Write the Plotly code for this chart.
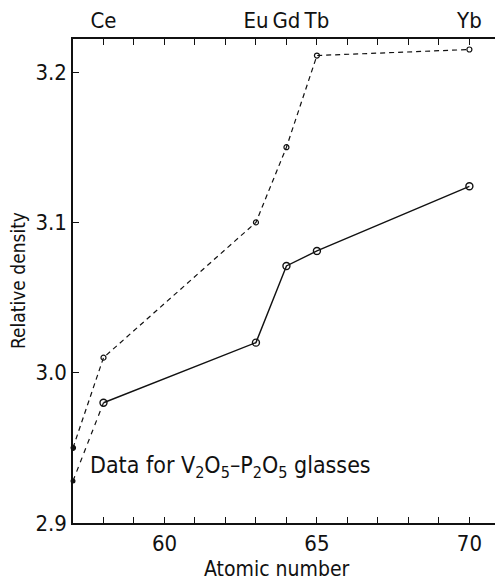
import plotly.graph_objects as go

# Data
atomic_number = [57, 58, 63, 64, 65, 70]
density_solid = [2.928, 2.980, 3.020, 3.071, 3.081, 3.124]
density_dashed = [2.950, 3.010, 3.100, 3.150, 3.211, 3.215]
top_tick_vals = [58, 63, 64, 65, 70]
top_tick_text = ["Ce", "Eu", "Gd", "Tb", "Yb"]
y_ticks = [2.9, 3.0, 3.1, 3.2]

FONT = "DejaVu Sans Condensed, DejaVu Sans"
BLACK = "#111111"

fig = go.Figure()

# dashed upper series
fig.add_trace(go.Scatter(
    x=atomic_number, y=density_dashed, mode="lines+markers",
    line=dict(color=BLACK, width=1.2, dash="5px,4px"),
    marker=dict(symbol="circle-open", size=5, color=BLACK, line=dict(width=1.2)),
    showlegend=False))

# lower series: first segment dashed, rest solid
fig.add_trace(go.Scatter(
    x=atomic_number[:2], y=density_solid[:2], mode="lines",
    line=dict(color=BLACK, width=1.2, dash="5px,5px"),
    showlegend=False))
fig.add_trace(go.Scatter(
    x=atomic_number[1:], y=density_solid[1:], mode="lines+markers",
    line=dict(color=BLACK, width=1.4),
    marker=dict(symbol="circle-open", size=7, color=BLACK, line=dict(width=1.4)),
    showlegend=False))
# filled end points at Z=57
fig.add_trace(go.Scatter(
    x=[atomic_number[0], atomic_number[0]], y=[density_solid[0], density_dashed[0]],
    mode="markers", marker=dict(size=5, color=BLACK),
    showlegend=False, cliponaxis=False))

# invisible trace to activate top axis
fig.add_trace(go.Scatter(x=[atomic_number[0]], y=[density_solid[0]], xaxis="x2",
                         mode="markers", marker=dict(opacity=0), showlegend=False,
                         hoverinfo="skip"))

xr = [57, 70.84]
TICKF = dict(family=FONT, size=22, color=BLACK)
fig.update_layout(
    width=495, height=580,
    margin=dict(l=73, r=0, t=39, b=57),
    plot_bgcolor="white", paper_bgcolor="white",
    font=dict(family=FONT, size=21, color=BLACK),
    xaxis=dict(range=xr, showline=True, linecolor=BLACK, linewidth=1.5,
               ticks="inside", ticklen=6, tickwidth=1.2, tickcolor=BLACK,
               tickvals=[60, 65, 70], showgrid=False, zeroline=False,
               minor=dict(ticks="inside", ticklen=6, tickwidth=1.2, tickcolor=BLACK, dtick=1, tick0=57),
               tickfont=TICKF, automargin=False),
    xaxis2=dict(range=xr, overlaying="x", side="top", anchor="y",
                showline=True, linecolor=BLACK, linewidth=1.5,
                ticks="inside", ticklen=6, tickwidth=1.2, tickcolor=BLACK,
                tickvals=top_tick_vals, ticktext=top_tick_text,
                minor=dict(ticks="inside", ticklen=6, tickwidth=1.2, tickcolor=BLACK, dtick=1, tick0=57),
                showgrid=False, zeroline=False, tickfont=TICKF, automargin=False),
    yaxis=dict(range=[2.9, 3.222], showline=True, linecolor=BLACK, linewidth=1.5,
               ticks="inside", ticklen=6, tickwidth=1.2, tickcolor=BLACK,
               tickvals=y_ticks, tickformat=".1f", showgrid=False, zeroline=False,
               tickfont=TICKF, automargin=False),
)

# axis titles as annotations for precise placement
fig.add_annotation(xref="paper", yref="paper", x=(277 - 73) / 422, y=-(569 - 523) / 484,
                   xanchor="center", yanchor="middle", showarrow=False,
                   text="Atomic number", font=dict(family=FONT, size=21, color=BLACK))
fig.add_annotation(xref="paper", yref="paper", x=-(73 - 18) / 422, y=(523 - 280) / 484,
                   xanchor="center", yanchor="middle", showarrow=False, textangle=-90,
                   text="Relative density", font=dict(family=FONT, size=19, color=BLACK))

fig.add_annotation(
    xref="paper", yref="paper", x=(88 - 73) / 422, y=(523 - 467) / 484,
    xanchor="left", yanchor="middle", showarrow=False,
    text="Data for V<sub>2</sub>O<sub>5</sub>\u2013P<sub>2</sub>O<sub>5</sub> glasses",
    font=dict(family=FONT, size=23, color=BLACK))

fig.write_html("out.html")
